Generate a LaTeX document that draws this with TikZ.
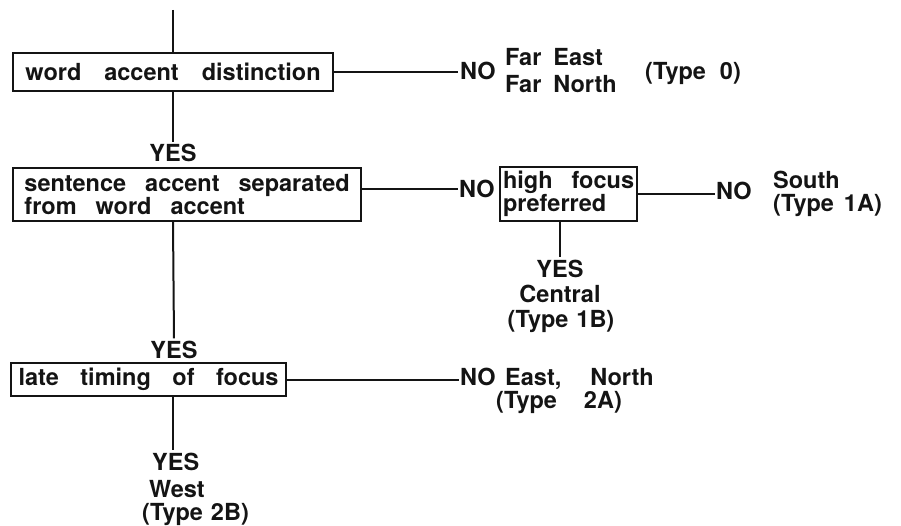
\documentclass[tikz,border=0pt]{standalone}
\usepackage{fontspec}
\setmainfont{TeX Gyre Heros}
\begin{document}
\begin{tikzpicture}[x=1pt,y=-1pt,
  ink/.style={black!92},
  lbl/.style={ink, font=\fontsize{23.5}{23}\selectfont\bfseries, inner sep=0pt,
    execute at begin node={\spaceskip=12pt\relax}},
  box/.style={lbl, draw, line width=2.1pt, anchor=north west, align=left,
    inner xsep=0pt, inner ysep=0pt, execute at begin node={\spaceskip=#1\relax}},
  box/.default=19pt,
  link/.style={ink, line width=2pt}]
\useasboundingbox (0,0) rectangle (901,526);

% main decision spine
\coordinate (spine) at (173,10);

% decision boxes
\node[box=23pt, minimum width=320pt, minimum height=38pt] (b1) at (12,52) {word accent distinction};
\node[box, minimum width=348pt, minimum height=53pt] (b2) at (12,167) {sentence accent separated\\from word accent};
\node[box, minimum width=137pt, minimum height=54pt] (b3) at (499,166) {high focus\\preferred};
\node[box=21.5pt, minimum width=275pt, minimum height=33pt] (b4) at (10,362) {late timing of focus};

% outcomes of the first test
\node[lbl, anchor=base west] (no1) at (460,80) {NO};
\node[lbl, anchor=base west] (fe) at (505,66) {Far East};
\node[lbl, anchor=base west] (fn) at (505,93) {Far North};
\node[lbl, anchor=base west] (t0) at (645,80) {(Type\hspace{14pt}0)};
\node[lbl, anchor=base] (y1) at (173,162) {YES};

% outcomes of the second and third tests
\node[lbl, anchor=base west] (no2) at (459,198) {NO};
\node[lbl, anchor=base west] (no3) at (716,200) {NO};
\node[lbl, anchor=base west] (south) at (773,189) {South};
\node[lbl, anchor=base west] (t1a) at (773,212) {(Type\hspace{10pt}1A)};
\node[lbl, anchor=base] (y2) at (560,277) {YES};
\node[lbl, anchor=base] (central) at (560,302) {Central};
\node[lbl, anchor=base] (t1b) at (561,327) {(Type\hspace{8pt}1B)};
\node[lbl, anchor=base] (y3) at (174,358) {YES};

% outcomes of the last test
\node[lbl, anchor=base west] (no4) at (460,385) {NO};
\node[lbl, anchor=base west] (en) at (505,385) {East,\hspace{29pt}North};
\node[lbl, anchor=base west] (t2a) at (496,408) {(Type\hspace{27pt}2A)};
\node[lbl, anchor=base west] (y4) at (152,470) {YES};
\node[lbl, anchor=base west] (west) at (149,497) {West};
\node[lbl, anchor=base west] (t2b) at (142,520) {(Type\hspace{8pt}2B)};

% connectors
\draw[link] (spine) -- (spine |- b1.north);
\draw[link, shorten >=2pt] (spine |- b1.south) -- (y1.north);
\draw[link, shorten >=2pt] (b1.east) -- (b1.east -| no1.west);
\draw[link, shorten >=2pt] (spine |- b2.south) -- (y3.north);
\draw[link, shorten >=1pt] (no2.west -| b2.east) -- (no2.west);
\draw[link, shorten >=1pt] (b3.east) -- (b3.east -| no3.west);
\draw[link, shorten >=2pt] (y2.north |- b3.south) -- (y2.north);
\draw[link, shorten >=1pt] (b4.east) -- (b4.east -| no4.west);
\draw[link, shorten >=2pt] (spine |- b4.south) -- (spine |- y4.north);
\end{tikzpicture}
\end{document}
